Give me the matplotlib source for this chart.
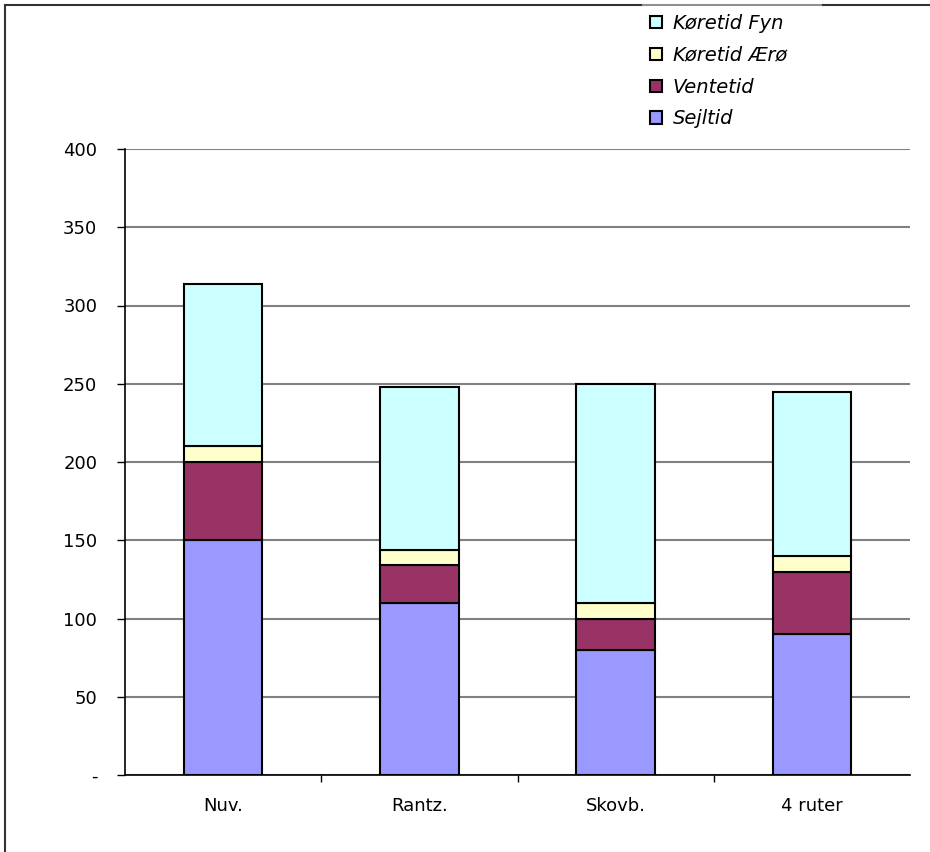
import matplotlib

matplotlib.use("Agg")
import matplotlib.pyplot as plt
from matplotlib.lines import Line2D

categories = ["Nuv.", "Rantz.", "Skovb.", "4 ruter"]
sejltid = [150, 110, 80, 90]
ventetid = [50, 24, 20, 40]
koeretid_aeroe = [10, 10, 10, 10]
koeretid_fyn = [104, 104, 140, 105]

series = [
    ("Sejltid", sejltid, "#9999FF"),
    ("Ventetid", ventetid, "#993366"),
    ("Køretid Ærø", koeretid_aeroe, "#FFFFCC"),
    ("Køretid Fyn", koeretid_fyn, "#CCFFFF"),
]

plt.rcParams["font.family"] = ["DejaVu Sans"]

W, H = 930, 852
fig = plt.figure(figsize=(W / 100, H / 100), dpi=100)
ax = fig.add_axes([125 / W, 1 - 775 / H, 785 / W, 626 / H])

x = list(range(len(categories)))
bottom = [0] * len(categories)
handles = []
for name, vals, color in series:
    h = ax.bar(x, vals, width=0.4, bottom=bottom, color=color,
               edgecolor="black", linewidth=1.5, label=name, zorder=3)
    handles.append(h)
    bottom = [b + v for b, v in zip(bottom, vals)]

ax.set_xlim(-0.5, len(categories) - 0.5)
ax.set_ylim(0, 400)
ax.set_yticks(range(0, 401, 50))
ax.set_yticklabels(["-"] + [str(v) for v in range(50, 401, 50)], fontsize=13)
ax.set_xticks(x)
ax.set_xticklabels(categories, fontsize=13)
ax.set_xticks([i + 0.5 for i in x[:-1]], minor=True)
ax.tick_params(axis="x", which="major", length=0, pad=16)
ax.tick_params(axis="x", which="minor", length=5, width=1, direction="out")
ax.tick_params(axis="y", length=6, width=1, direction="out", pad=14)
ax.yaxis.grid(True, color="#808080", linewidth=1.5, zorder=0)
ax.set_axisbelow(True)
for s in ("top", "right"):
    ax.spines[s].set_visible(False)
for s in ("left", "bottom"):
    ax.spines[s].set_linewidth(1.2)
    ax.spines[s].set_zorder(4)

fig.legend(handles[::-1], [s[0] for s in series][::-1],
           loc="upper left", bbox_to_anchor=(650 / W, 1 - 14 / H),
           frameon=False, prop={"style": "italic", "size": 14},
           handlelength=0.62, handleheight=0.62, handletextpad=0.55,
           labelspacing=0.66, borderpad=0, borderaxespad=0)

# outer chart frame: left edge and top edge
fig.add_artist(Line2D([5 / W, 5 / W], [0, 1 - 5 / H], transform=fig.transFigure,
                      color="#333333", linewidth=1.5))
fig.add_artist(Line2D([5 / W, 643 / W], [1 - 5 / H] * 2, transform=fig.transFigure,
                      color="#333333", linewidth=1.5))
fig.add_artist(Line2D([643 / W, 823 / W], [1 - 5 / H] * 2, transform=fig.transFigure,
                      color="#909090", linewidth=1.5))
fig.add_artist(Line2D([823 / W, 1], [1 - 5 / H] * 2, transform=fig.transFigure,
                      color="#333333", linewidth=1.5))

fig.savefig("out.png", dpi=100)
